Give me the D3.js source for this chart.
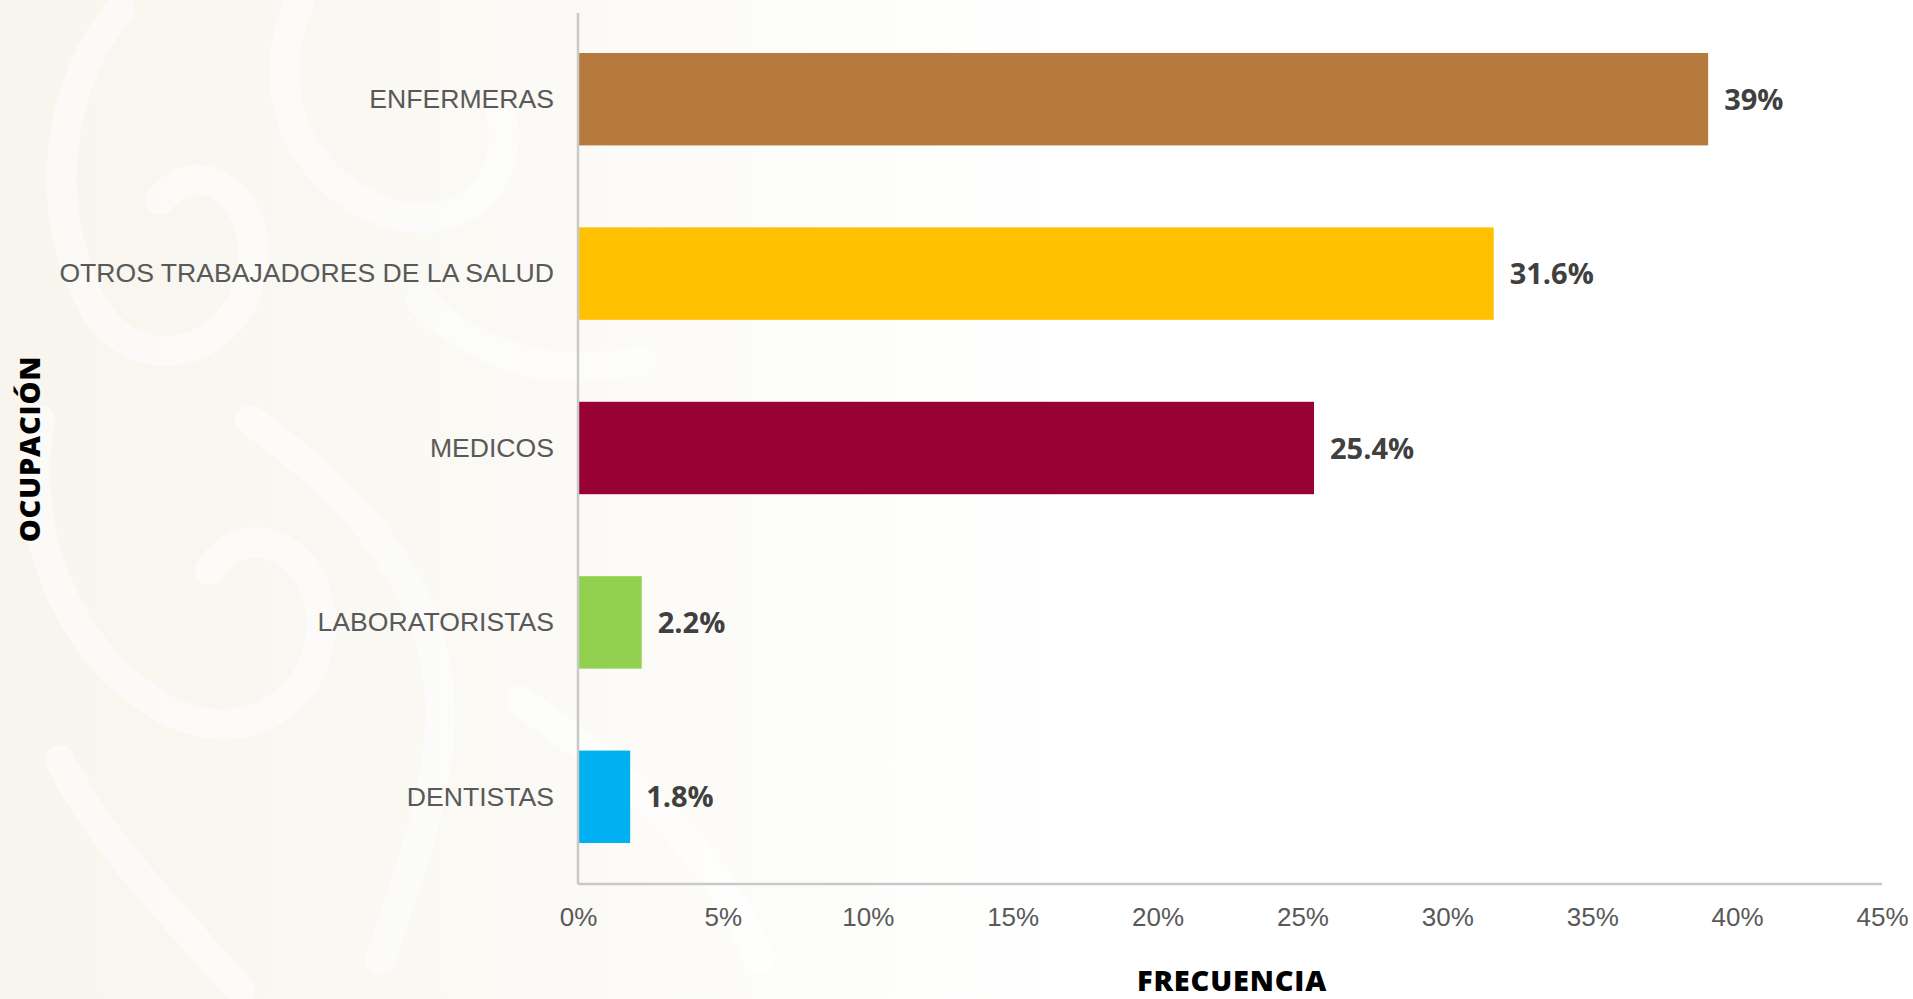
<!DOCTYPE html>
<html>
<head>
<meta charset="utf-8">
<script src="https://cdn.jsdelivr.net/npm/d3@7"></script>
<style>
html,body{margin:0;padding:0;background:#ffffff;overflow:hidden;}
svg{display:block;}
</style>
</head>
<body>
<div id="chart"></div>
<script>
// ---- data ----
const categories = ["ENFERMERAS", "OTROS TRABAJADORES DE LA SALUD", "MEDICOS", "LABORATORISTAS", "DENTISTAS"];
const values = [39, 31.6, 25.4, 2.2, 1.8];
const valueLabels = ["39%", "31.6%", "25.4%", "2.2%", "1.8%"];
const colors = ["#B67A3E", "#FFC000", "#990033", "#92D050", "#00B0F0"];
const tickValues = [0, 5, 10, 15, 20, 25, 30, 35, 40, 45];
const xTitle = "FRECUENCIA";
const yTitle = "OCUPACIÓN";

const W = 1913, H = 999;
const svg = d3.select("#chart").append("svg").attr("width", W).attr("height", H);

// ---- faint background ornament ----
const defs = svg.append("defs");
const grad = defs.append("linearGradient").attr("id", "bgfade").attr("x1", "0").attr("x2", "1").attr("y1", "0").attr("y2", "0");
grad.append("stop").attr("offset", "0").attr("stop-color", "#f8f5ee");
grad.append("stop").attr("offset", "0.3").attr("stop-color", "#fbfaf6");
grad.append("stop").attr("offset", "0.55").attr("stop-color", "#ffffff");
svg.append("rect").attr("width", W).attr("height", H).attr("fill", "url(#bgfade)");
const orn = svg.append("g").attr("fill", "none").attr("stroke", "#ffffff").attr("stroke-linecap", "round").attr("opacity", 0.55);
const ornPaths = [
  "M120,10 C60,80 40,200 90,300 C130,380 230,360 250,280 C270,200 200,150 160,200",
  "M300,0 C260,90 300,180 380,210 C460,240 520,180 500,110",
  "M40,420 C20,520 60,640 150,700 C240,760 330,700 320,610 C310,540 240,520 210,570",
  "M250,420 C320,470 400,540 430,640 C460,740 420,840 380,960",
  "M60,760 C100,840 160,900 240,990",
  "M420,300 C480,360 560,380 640,360",
  "M520,700 C600,760 700,820 760,960"
];
orn.selectAll("path").data(ornPaths).join("path").attr("d", d => d).attr("stroke-width", 30);

// ---- scales ----
const x = d3.scaleLinear().domain([0, 45]).range([578, 1882]);
const y = d3.scaleBand().domain(categories).range([12, 884]).paddingInner(0.47).paddingOuter(0.235);

// ---- bars ----
svg.append("g").selectAll("rect").data(categories).join("rect")
  .attr("x", x(0) + 1)
  .attr("y", d => y(d))
  .attr("width", (d, i) => x(values[i]) - x(0) - 1)
  .attr("height", y.bandwidth())
  .attr("fill", (d, i) => colors[i]);

// ---- axes lines ----
svg.append("line").attr("x1", x(0)).attr("x2", x(0)).attr("y1", 13).attr("y2", 884)
  .attr("stroke", "#c9c9c9").attr("stroke-width", 2.5);
svg.append("line").attr("x1", x(0)).attr("x2", x(45)).attr("y1", 884).attr("y2", 884)
  .attr("stroke", "#c9c9c9").attr("stroke-width", 2.5);

// ---- x axis tick labels ----
const xAxis = d3.axisBottom(x).tickValues(tickValues).tickFormat(d => d + "%").tickSize(0).tickPadding(0);
const gx = svg.append("g").attr("transform", "translate(0,926)").call(xAxis);
gx.select(".domain").remove();
gx.selectAll("text")
  .attr("dy", 0)
  .attr("y", 0)
  .attr("font-family", "Liberation Sans, Arial, sans-serif")
  .attr("font-size", 26)
  .attr("fill", "#595959");

// ---- y axis category labels ----
const yAxis = d3.axisLeft(y).tickSize(0).tickPadding(24);
const gy = svg.append("g").attr("transform", `translate(${x(0)},0)`).call(yAxis);
gy.select(".domain").remove();
gy.selectAll("text")
  .attr("dy", "0.33em")
  .attr("font-family", "Liberation Sans, Arial, sans-serif")
  .attr("font-size", 26.6)
  .attr("fill", "#595959");

// ---- value labels ----
svg.append("g").selectAll("text").data(categories).join("text")
  .attr("x", (d, i) => x(values[i]) + 16)
  .attr("y", d => y(d) + y.bandwidth() / 2 + 10.5)
  .attr("font-family", "Open Sans, sans-serif")
  .attr("font-weight", 700)
  .attr("font-size", 29)
  .attr("fill", "#404040")
  .text((d, i) => valueLabels[i]);

// ---- axis titles ----
svg.append("text")
  .attr("x", 1232).attr("y", 991)
  .attr("text-anchor", "middle")
  .attr("font-family", "Open Sans, sans-serif")
  .attr("font-weight", 800)
  .attr("font-size", 29)
  .attr("letter-spacing", 0.8)
  .attr("fill", "#000000")
  .text(xTitle);
svg.append("text")
  .attr("transform", "translate(40,449) rotate(-90)")
  .attr("text-anchor", "middle")
  .attr("font-family", "Open Sans, sans-serif")
  .attr("font-weight", 800)
  .attr("font-size", 29)
  .attr("letter-spacing", 0.8)
  .attr("fill", "#000000")
  .text(yTitle);
</script>
</body>
</html>
